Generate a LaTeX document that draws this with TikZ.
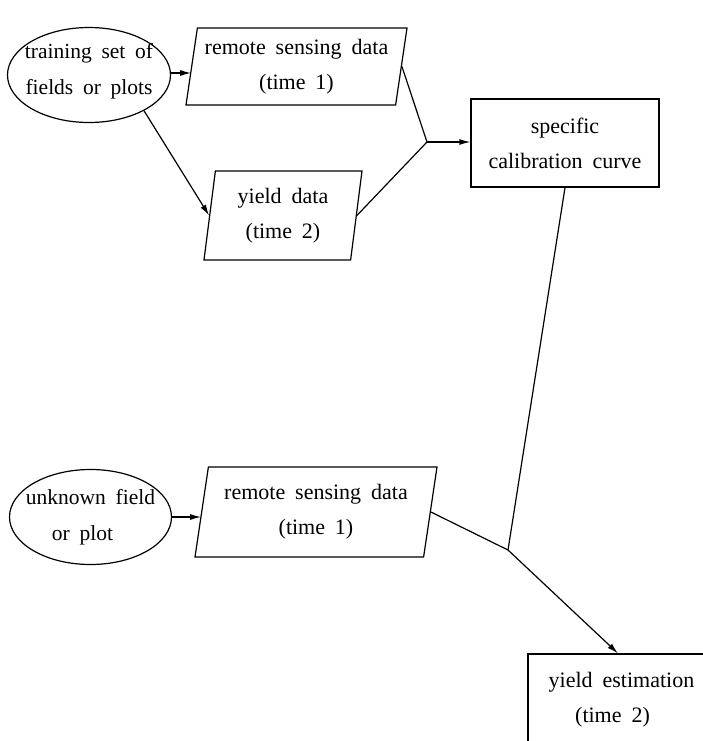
\documentclass[tikz,border=0pt]{standalone}
\usepackage{fontspec}
\setmainfont[WordSpace=1.8]{Liberation Serif}
\usetikzlibrary{shapes.geometric,arrows.meta}
\begin{document}
\begin{tikzpicture}[x=1pt,y=-1pt,
  every node/.style={font=\fontsize{22}{35}\selectfont, align=center,
                     line width=1.2pt, inner sep=0pt},
  oval/.style={draw, ellipse},
  ovaltext/.style={font=\fontsize{21.5}{36}\selectfont},
  datum/.style={draw, trapezium, trapezium stretches body,
                trapezium left angle=#1, trapezium right angle=180-#1},
  box/.style={draw, rectangle},
  link/.style={line width=1.2pt},
  arr/.style={link, -{Latex[length=11pt,width=6pt]}}
]
\useasboundingbox (0,0) rectangle (703,741);
\clip (0,0) rectangle (703,741);
\fill[white] (0,0) rectangle (703,741);

% calibration branch
\node[oval, minimum width=163pt, minimum height=95pt,
      label={[name=trainlbl, ovaltext, yshift=4pt]center:training set of\\fields or plots}]
  (train) at (89,75) {};
\node[datum=78.3, minimum width=221pt, minimum height=77pt] (rs1) at (296.5,66.5)
  {remote sensing data\\(time 1)};
\node[datum=78.3, minimum width=158pt, minimum height=89pt] (yd) at (283,215.5)
  {yield data\\(time 2)};
\node[box, minimum width=188pt, minimum height=88pt] (cal) at (565,143)
  {specific\\calibration curve};

% estimation branch
\node[oval, minimum width=162pt, minimum height=95pt,
      label={[name=unklbl, ovaltext]center:unknown field\\\hspace*{-16pt}or plot}]
  (unk) at (90.5,517) {};
\node[datum=76.3, minimum width=242pt, minimum height=90pt] (rs2) at (316,512)
  {remote sensing data\\(time 1)};
\node[box, minimum width=187pt, minimum height=92pt] (est) at (621.5,700)
  {yield estimation\\\hspace*{-18pt}(time 2)};

\coordinate (j1) at (427,142);
\coordinate (j2) at (508,550);

% connectors
\draw[arr] ([yshift=2pt]train.east) -- ([yshift=2pt]train.east -| rs1.west);
\draw[arr] (train.-33) -- (yd.west);
\draw[link] (rs1.east) -- (j1);
\draw[link] (yd.east) -- (j1);
\draw[arr] (j1) -- (j1 -| cal.west);
\draw[arr] (unk.east) -- (unk.east -| rs2.west);
\draw[link] (cal.south) -- (j2);
\draw[link] (rs2.east) -- (j2);
\draw[arr] (j2) -- ([xshift=-3.5pt]est.north);
\end{tikzpicture}
\end{document}
